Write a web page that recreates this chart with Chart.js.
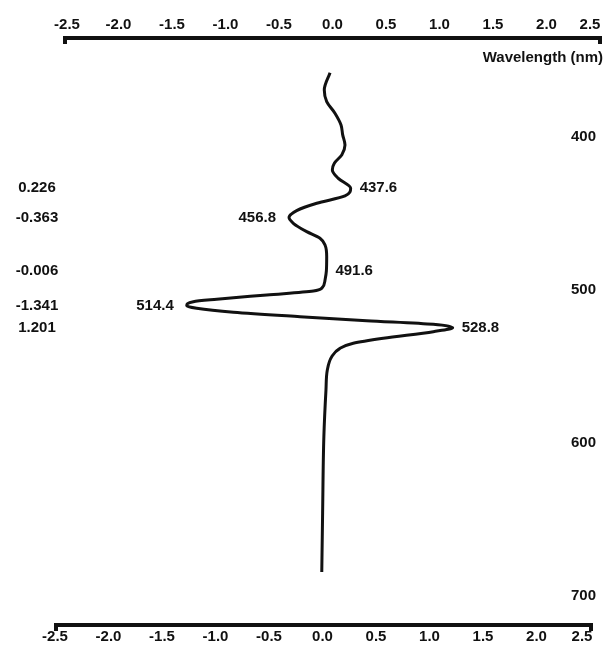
<!DOCTYPE html>
<html>
<head>
<meta charset="utf-8">
<script src="https://cdn.jsdelivr.net/npm/chart.js@4.4.1/dist/chart.umd.min.js"></script>
<style>
  html, body { margin: 0; padding: 0; background: #fff; }
  #wrap { width: 605px; height: 647px; }
</style>
</head>
<body>
<div id="wrap"><canvas id="spectrumChart" width="605" height="647"></canvas></div>
<script>
// Wavelength (nm) and signal
const wavelengths = [362.0, 373.3, 380.9, 388.5, 396.2, 402.7, 409.3, 415.8, 421.2, 425.6, 431.1, 437.6,
    442.6, 447.4, 452.2, 456.8, 460.5, 466.0, 470.3, 474.7, 482.3, 491.6, 497.6, 503.0, 504.8, 507.4,
    510.2, 511.8, 514.4, 516.1, 518.7, 521.6, 524.2, 526.6, 528.8, 531.4, 535.7, 539.0, 542.3, 547.8,
    556.5, 569.6, 600, 650, 688.6];
const values = [0.029, -0.026, -0.003, 0.076, 0.134, 0.150, 0.172, 0.141, 0.070, 0.051, 0.108, 0.226,
    0.172, -0.098, -0.290, -0.363, -0.322, -0.194, -0.067, -0.019, -0.003, -0.006, -0.019, -0.050, -0.130, -0.576,
    -1.054, -1.278, -1.341, -1.246, -0.895, -0.258, 0.379, 1.016, 1.201, 1.016, 0.538, 0.251, 0.124, 0.045,
    0.003, -0.010, -0.030, -0.042, -0.050];

// Labelled points
const peakWavelengths = [437.6, 456.8, 491.6, 514.4, 528.8];
const peakValues = [0.226, -0.363, -0.006, -1.341, 1.201];

// Tick labels
const xTicks = [-2.5, -2.0, -1.5, -1.0, -0.5, 0.0, 0.5, 1.0, 1.5, 2.0, 2.5];
const yTicks = [400, 500, 600, 700];
const yTitle = 'Wavelength (nm)';

const FONT = 'bold 15px "Liberation Sans", Arial, sans-serif';

// draws the framed axes, tick labels and annotations
const decorPlugin = {
    id: 'decor',
    afterDatasetsDraw(chart) {
        const { ctx, chartArea } = chart;
        const xt = chart.scales.xt, xb = chart.scales.xb, xd = chart.scales.xd, y = chart.scales.y;
        const last = xTicks.length - 1;
        ctx.save();
        ctx.fillStyle = '#111';

        // top axis line with end marks
        const t0 = xt.getPixelForValue(xTicks[0]), t1 = xt.getPixelForValue(xTicks[last]);
        ctx.fillRect(t0 - 2, chartArea.top - 2, t1 - t0 + 4, 4);
        ctx.fillRect(t0 - 2, chartArea.top - 2, 4, 8);
        ctx.fillRect(t1 - 2, chartArea.top - 2, 4, 8);

        // bottom axis line with end marks
        const b0 = xb.getPixelForValue(xTicks[0]), b1 = xb.getPixelForValue(xTicks[last]);
        ctx.fillRect(b0 - 2, chartArea.bottom - 2, b1 - b0 + 4, 4);
        ctx.fillRect(b0 - 2, chartArea.bottom - 2, 4, 8);
        ctx.fillRect(b1 - 2, chartArea.bottom - 2, 4, 8);

        ctx.font = FONT;
        ctx.textAlign = 'center';
        ctx.textBaseline = 'middle';
        xTicks.forEach((v, i) => {
            const shift = i === last ? -10 : (i === 0 ? 2 : 0);
            ctx.fillText(v.toFixed(1), xt.getPixelForValue(v) + shift, chartArea.top - 13);
            ctx.fillText(v.toFixed(1), xb.getPixelForValue(v) + (i === last ? -9 : -1), chartArea.bottom + 12);
        });

        // wavelength ticks on the right (labels sit a little under their tick)
        ctx.textAlign = 'right';
        yTicks.forEach(v => ctx.fillText(String(v), 596, y.getPixelForValue(v) + 6));
        ctx.fillText(yTitle, 603, chartArea.top + 20);

        // values column on the left
        ctx.textAlign = 'center';
        peakValues.forEach((v, i) => {
            ctx.fillText(v.toFixed(3), 37, y.getPixelForValue(peakWavelengths[i]));
        });

        // wavelength labels next to the curve
        peakWavelengths.forEach((w, i) => {
            const px = xd.getPixelForValue(peakValues[i]);
            const py = y.getPixelForValue(w);
            if (peakValues[i] > -0.1) {
                ctx.textAlign = 'left';
                ctx.fillText(w.toFixed(1), px + 9, py);
            } else {
                ctx.textAlign = 'right';
                ctx.fillText(w.toFixed(1), px - 13, py);
            }
        });
        ctx.restore();
    }
};

document.addEventListener('DOMContentLoaded', function() {
    const ctx = document.getElementById('spectrumChart').getContext('2d');
    new Chart(ctx, {
        type: 'line',
        data: {
            datasets: [{
                data: wavelengths.map((w, i) => ({ x: values[i], y: w })),
                borderColor: '#111',
                borderWidth: 3,
                pointRadius: 0,
                fill: false,
                cubicInterpolationMode: 'monotone',
                xAxisID: 'xd',
                yAxisID: 'y'
            }]
        },
        options: {
            responsive: false,
            animation: false,
            indexAxis: 'y',
            layout: { padding: { left: 56, right: 5, top: 38, bottom: 22 } },
            plugins: { legend: { display: false }, tooltip: { enabled: false } },
            scales: {
                y: { type: 'linear', reverse: true, min: 339.3, max: 723.3, display: false },
                xd: { type: 'linear', position: 'bottom', min: -2.591, max: 2.610, display: false },
                xt: { type: 'linear', position: 'top', min: -2.5841, max: 2.5, display: false },
                xb: { type: 'linear', position: 'bottom', min: -2.5, max: 2.5841, display: false }
            }
        },
        plugins: [decorPlugin]
    });
});
</script>
</body>
</html>
